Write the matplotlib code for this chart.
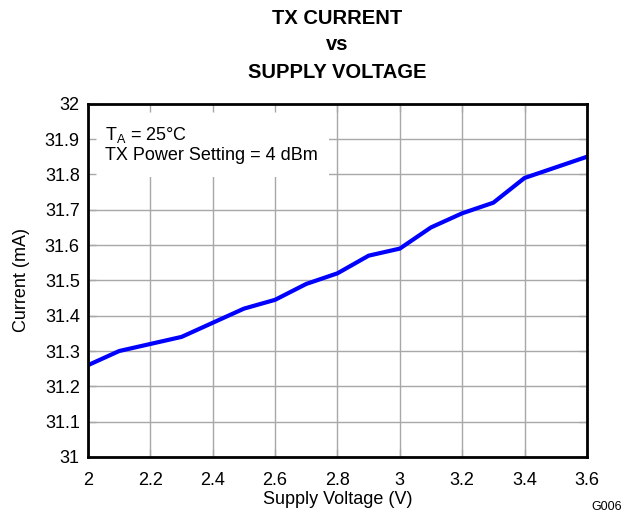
import matplotlib
matplotlib.use('Agg')
import matplotlib.pyplot as plt
from matplotlib.patches import Rectangle
import numpy as np

plt.rcParams['font.family'] = ['Liberation Sans', 'DejaVu Sans']
plt.rcParams['mathtext.fontset'] = 'custom'
plt.rcParams['mathtext.rm'] = 'Liberation Sans'

# 数据
voltage = [2.0, 2.1, 2.2, 2.3, 2.4, 2.5, 2.6, 2.7, 2.8, 2.9, 3.0, 3.1, 3.2, 3.3, 3.4, 3.5, 3.6]
current = [31.26, 31.30, 31.32, 31.34, 31.38, 31.42, 31.445, 31.49, 31.52, 31.57, 31.59,
           31.65, 31.69, 31.72, 31.79, 31.82, 31.85]
x_ticks = [2, 2.2, 2.4, 2.6, 2.8, 3, 3.2, 3.4, 3.6]
y_ticks = [31, 31.1, 31.2, 31.3, 31.4, 31.5, 31.6, 31.7, 31.8, 31.9, 32]

fig = plt.figure(figsize=(6.29, 5.14), dpi=100)
ax = fig.add_axes([0.14, 0.111, 0.793, 0.687])

# 网格
for xv in x_ticks:
    ax.axvline(xv, color='#a8a8a8', lw=1.0, zorder=0.5)
for yv in y_ticks:
    ax.axhline(yv, color='#a8a8a8', lw=1.0, zorder=0.5)

# 图例区域白底
ax.add_patch(Rectangle((0, 0.793), 0.483, 0.207, transform=ax.transAxes,
                       facecolor='white', edgecolor='none', zorder=1))

ax.plot(voltage, current, color='#0000ff', lw=3, zorder=3, solid_joinstyle='round')

ax.set_xlim(2, 3.6)
ax.set_ylim(31, 32)
ax.set_xticks(x_ticks)
ax.set_xticklabels(['2', '2.2', '2.4', '2.6', '2.8', '3', '3.2', '3.4', '3.6'])
ax.set_yticks(y_ticks)
ax.set_yticklabels(['31', '31.1', '31.2', '31.3', '31.4', '31.5', '31.6', '31.7', '31.8', '31.9', '32'])
ax.set_axisbelow(False)
ax.tick_params(direction='in', length=6, width=1, color='#a8a8a8', labelsize=13,
               top=True, right=True)
ax.tick_params(axis='x', pad=11)
ax.tick_params(axis='y', pad=6)
for s in ax.spines.values():
    s.set_linewidth(2)
    s.set_zorder(4)

ax.text(0.034, 0.898, r'T$_{\mathrm{A}}$ = 25°C', transform=ax.transAxes,
        fontsize=13, va='baseline', ha='left', zorder=5)
ax.text(0.034, 0.841, 'TX Power Setting = 4 dBm', transform=ax.transAxes,
        fontsize=13, va='baseline', ha='left', zorder=5)

# 标题
cx = 0.14 + 0.793 / 2
fig.text(cx, 1 - 18 / 514, 'TX CURRENT', ha='center', va='center', fontsize=14.5, fontweight='bold')
fig.text(cx, 1 - 45 / 514, 'vs', ha='center', va='center', fontsize=14.5, fontweight='bold')
fig.text(cx, 1 - 73 / 514, 'SUPPLY VOLTAGE', ha='center', va='center', fontsize=14.5, fontweight='bold')

fig.text(22 / 629, 0.111 + 0.687 / 2, 'Current (mA)', rotation=90, ha='center', va='center', fontsize=13)
fig.text(cx, 1 - 499 / 514, 'Supply Voltage (V)', ha='center', va='center', fontsize=13)
fig.text(622 / 629, 1 - 507 / 514, 'G006', ha='right', va='center', fontsize=9)

fig.savefig('out.png', dpi=100)
